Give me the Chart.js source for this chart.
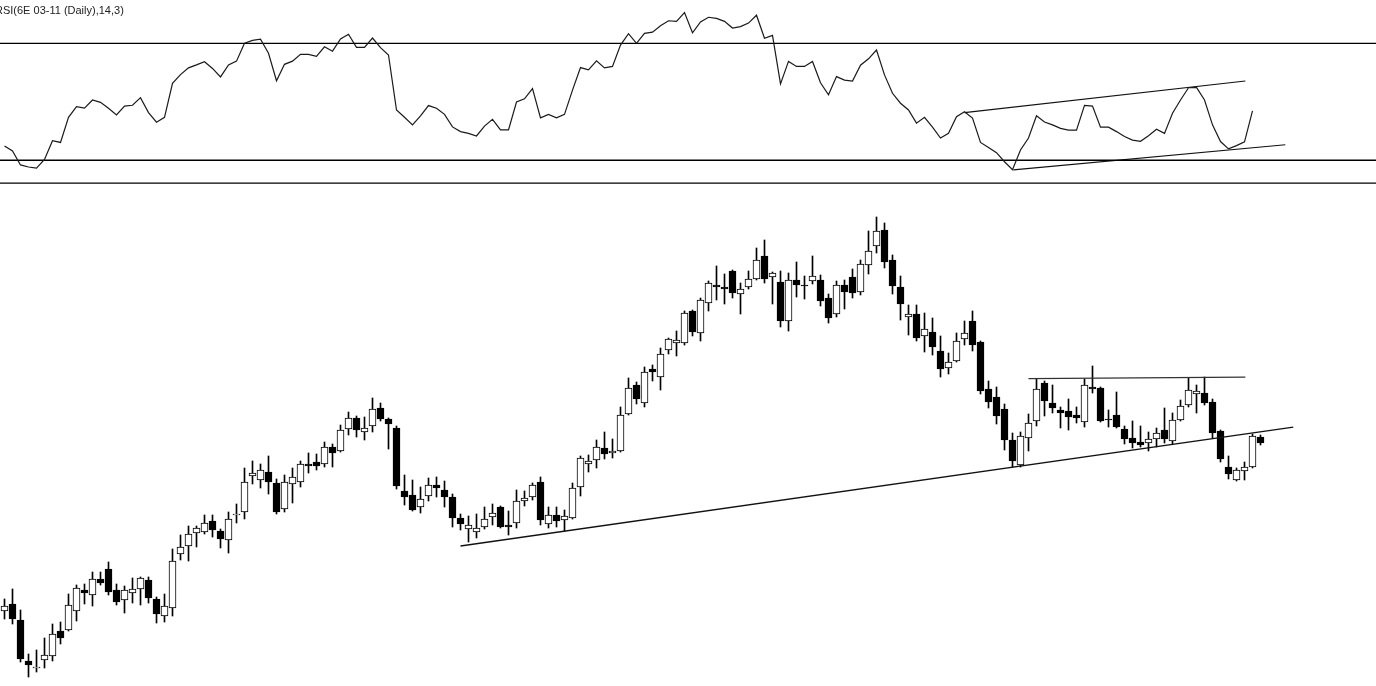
<!DOCTYPE html>
<html>
<head>
<meta charset="utf-8">
<script src="https://cdn.jsdelivr.net/npm/chart.js@4.4.0/dist/chart.umd.min.js"></script>
<style>
html, body { margin: 0; padding: 0; background: #fff; overflow: hidden; }
#rsiBox { position: absolute; left: 0; top: 0; width: 1376px; height: 186px; }
#priceBox { position: absolute; left: 0; top: 186px; width: 1376px; height: 500px; }
#rsiLabel { position: absolute; left: -5px; top: 4px; font: 11px Arial, "Liberation Sans", sans-serif; color: #222; line-height: 13px; white-space: nowrap; }
</style>
</head>
<body>
<div id="rsiBox"><canvas id="rsi"></canvas></div>
<div id="priceBox"><canvas id="price"></canvas></div>
<div id="rsiLabel">RSI(6E 03-11 (Daily),14,3)</div>
<script>
// daily 6E bars
const opens = [
  1.2220,1.2255,1.2175,1.1970,1.1935,1.1975,1.1995,1.2120,1.2125,1.2220,
  1.2325,1.2300,1.2380,1.2430,1.2325,1.2275,1.2310,1.2330,1.2375,1.2280,
  1.2195,1.2235,1.2505,1.2545,1.2610,1.2615,1.2670,1.2620,1.2575,1.2700,
  1.2715,1.2895,1.2875,1.2915,1.2860,1.2730,1.2855,1.2865,1.2955,1.2965,
  1.2955,1.3040,1.3020,1.3130,1.3185,1.3115,1.3145,1.3235,1.3180,1.3135,
  1.2820,1.2800,1.2740,1.2795,1.2850,1.2825,1.2790,1.2685,1.2630,1.2615,
  1.2640,1.2690,1.2740,1.2650,1.2660,1.2770,1.2790,1.2865,1.2655,1.2700,
  1.2675,1.2685,1.2840,1.2955,1.2975,1.3035,1.3010,1.3020,1.3205,1.3350,
  1.3260,1.3430,1.3390,1.3525,1.3560,1.3560,1.3720,1.3610,1.3760,1.3850,
  1.3840,1.3920,1.3805,1.3840,1.3880,1.3995,1.3890,1.3865,1.3670,1.3875,
  1.3850,1.3870,1.3875,1.3785,1.3705,1.3850,1.3890,1.3815,1.3950,1.4045,
  1.4125,1.3975,1.3840,1.3690,1.3705,1.3595,1.3615,1.3520,1.3435,1.3470,
  1.3580,1.3670,1.3565,1.3330,1.3290,1.3230,1.3075,1.2950,1.3085,1.3170,
  1.3360,1.3260,1.3225,1.3220,1.3200,1.3165,1.3340,1.3335,1.3180,1.3200,
  1.3130,1.3085,1.3065,1.3060,1.3080,1.3125,1.3070,1.3175,1.3250,1.3305,
  1.3310,1.3265,1.3120,1.2940,1.2875,1.2920,1.2940,1.3090
];
const highs = [
  1.2280,1.2330,1.2225,1.2005,1.2025,1.2085,1.2155,1.2165,1.2305,1.2350,
  1.2355,1.2415,1.2415,1.2465,1.2355,1.2345,1.2385,1.2390,1.2390,1.2290,
  1.2305,1.2530,1.2600,1.2645,1.2645,1.2700,1.2700,1.2630,1.2715,1.2755,
  1.2935,1.2970,1.2955,1.2995,1.2880,1.2900,1.2935,1.2970,1.3010,1.3005,
  1.3065,1.3055,1.3150,1.3215,1.3195,1.3190,1.3285,1.3260,1.3185,1.3145,
  1.2900,1.2875,1.2840,1.2885,1.2890,1.2870,1.2805,1.2705,1.2695,1.2705,
  1.2740,1.2755,1.2745,1.2720,1.2825,1.2820,1.2860,1.2890,1.2740,1.2740,
  1.2725,1.2860,1.2995,1.3000,1.3075,1.3115,1.3080,1.3240,1.3385,1.3365,
  1.3440,1.3450,1.3535,1.3585,1.3620,1.3720,1.3725,1.3785,1.3870,1.3945,
  1.3905,1.3925,1.3860,1.3920,1.4035,1.4075,1.3915,1.3920,1.3910,1.3965,
  1.3895,1.3995,1.3900,1.3805,1.3870,1.3875,1.3930,1.3975,1.4120,1.4190,
  1.4160,1.4000,1.3895,1.3750,1.3750,1.3710,1.3685,1.3595,1.3510,1.3610,
  1.3670,1.3720,1.3570,1.3370,1.3340,1.3255,1.3110,1.3115,1.3205,1.3380,
  1.3370,1.3350,1.3240,1.3280,1.3240,1.3380,1.3445,1.3340,1.3225,1.3315,
  1.3145,1.3170,1.3145,1.3115,1.3135,1.3235,1.3210,1.3275,1.3385,1.3350,
  1.3390,1.3280,1.3125,1.2995,1.2935,1.2965,1.3105,1.3100
];
const lows = [
  1.2180,1.2155,1.1965,1.1890,1.1915,1.1935,1.1970,1.2055,1.2120,1.2170,
  1.2255,1.2245,1.2350,1.2300,1.2250,1.2210,1.2260,1.2250,1.2260,1.2160,
  1.2165,1.2195,1.2475,1.2470,1.2540,1.2605,1.2590,1.2535,1.2510,1.2660,
  1.2680,1.2855,1.2835,1.2805,1.2705,1.2715,1.2760,1.2840,1.2910,1.2925,
  1.2940,1.2940,1.3015,1.3100,1.3090,1.3075,1.3115,1.3170,1.3030,1.2830,
  1.2750,1.2720,1.2710,1.2770,1.2790,1.2740,1.2640,1.2625,1.2565,1.2585,
  1.2630,1.2650,1.2635,1.2600,1.2635,1.2745,1.2775,1.2650,1.2635,1.2640,
  1.2620,1.2680,1.2795,1.2915,1.2935,1.2980,1.2985,1.3015,1.3200,1.3255,
  1.3240,1.3370,1.3325,1.3505,1.3495,1.3550,1.3595,1.3570,1.3720,1.3775,
  1.3755,1.3785,1.3705,1.3830,1.3875,1.3860,1.3755,1.3640,1.3620,1.3790,
  1.3780,1.3855,1.3745,1.3660,1.3690,1.3730,1.3785,1.3800,1.3905,1.4010,
  1.3935,1.3805,1.3675,1.3600,1.3570,1.3515,1.3500,1.3390,1.3405,1.3465,
  1.3550,1.3520,1.3305,1.3235,1.3155,1.3025,1.2940,1.2940,1.3020,1.3145,
  1.3195,1.3210,1.3135,1.3125,1.3160,1.3140,1.3310,1.3165,1.3140,1.3135,
  1.3055,1.3035,1.3040,1.3020,1.3040,1.3060,1.3055,1.3170,1.3240,1.3210,
  1.3250,1.3085,1.2965,1.2880,1.2870,1.2875,1.2935,1.3050
];
const closes = [
  1.2245,1.2180,1.1980,1.1950,1.1940,1.2000,1.2105,1.2085,1.2250,1.2335,
  1.2310,1.2380,1.2360,1.2315,1.2265,1.2325,1.2330,1.2385,1.2285,1.2205,
  1.2245,1.2470,1.2540,1.2605,1.2635,1.2660,1.2625,1.2580,1.2680,1.2705,
  1.2865,1.2910,1.2925,1.2865,1.2715,1.2865,1.2890,1.2955,1.2945,1.2945,
  1.3040,1.3010,1.3125,1.3185,1.3125,1.3135,1.3230,1.3180,1.3155,1.2845,
  1.2790,1.2725,1.2780,1.2850,1.2835,1.2790,1.2685,1.2655,1.2650,1.2635,
  1.2680,1.2710,1.2640,1.2640,1.2770,1.2785,1.2850,1.2675,1.2700,1.2670,
  1.2695,1.2835,1.2985,1.2970,1.3040,1.3005,1.3020,1.3200,1.3335,1.3280,
  1.3415,1.3415,1.3505,1.3580,1.3575,1.3710,1.3615,1.3775,1.3860,1.3840,
  1.3830,1.3810,1.3830,1.3880,1.3975,1.3880,1.3910,1.3670,1.3875,1.3850,
  1.3845,1.3895,1.3770,1.3685,1.3850,1.3815,1.3810,1.3955,1.4020,1.4120,
  1.3965,1.3845,1.3755,1.3705,1.3585,1.3630,1.3540,1.3430,1.3465,1.3570,
  1.3610,1.3550,1.3320,1.3265,1.3195,1.3075,1.2970,1.3095,1.3160,1.3330,
  1.3270,1.3235,1.3210,1.3190,1.3185,1.3350,1.3330,1.3170,1.3175,1.3140,
  1.3080,1.3060,1.3050,1.3080,1.3110,1.3080,1.3175,1.3245,1.3325,1.3320,
  1.3260,1.3110,1.2980,1.2905,1.2925,1.2940,1.3095,1.3060
];

// RSI(14), last bar not yet computed
const rsiValues = [
  34.9,33.2,28.4,27.7,27.3,30.3,36.7,36.1,44.7,48.3,
  47.8,50.6,49.8,47.8,45.5,48.5,48.8,51.4,46.3,43.0,
  44.7,56.3,59.3,61.6,62.6,63.7,61.4,58.5,62.6,63.9,
  70.0,71.0,71.4,66.6,57.2,62.8,63.9,66.2,66.2,65.5,
  68.8,67.3,71.5,73.1,68.6,68.6,71.8,68.5,66.0,47.2,
  44.7,42.1,45.2,48.7,47.8,45.7,41.4,39.8,39.2,38.3,
  41.7,44.0,40.4,40.4,49.9,51.0,54.5,44.5,45.7,44.5,
  45.7,54.0,61.7,60.9,64.0,61.6,62.1,69.4,73.3,70.0,
  73.4,73.8,76.0,77.7,77.5,80.5,73.6,77.3,78.9,78.5,
  77.5,75.2,75.7,76.9,79.6,71.7,72.7,56.1,63.8,62.1,
  62.1,63.8,56.5,52.4,58.6,57.4,57.1,62.5,64.7,67.7,
  59.2,52.9,49.5,47.2,42.7,44.7,41.3,37.6,39.2,44.9,
  46.6,44.4,36.1,34.4,32.6,29.5,26.8,33.5,37.6,45.2,
  43.1,42.1,40.9,40.3,40.3,48.8,48.5,41.3,41.3,39.8,
  38.1,36.9,36.5,38.4,40.6,39.2,46.1,50.6,54.8,54.9,
  50.6,42.1,36.4,33.9,35.0,36.3,46.9,null
];
const rsiLevels = [70, 30];
const rsiFloor = 22.2;

// drawn trend lines (bar index, value)
const supportLine = [{ x: 57.0, y: 1.2545 }, { x: 161.1, y: 1.3139 }];
const resistanceLine = [{ x: 128.0, y: 1.3382 }, { x: 155.1, y: 1.3389 }];
const rsiUpper = [{ x: 120.0, y: 46.3 }, { x: 155.1, y: 57.1 }];
const rsiLower = [{ x: 126.1, y: 26.7 }, { x: 160.1, y: 35.3 }];

// 172 bar slots of 8px across the window, bar centres on half pixels
const xMin = -0.5625, xMax = 171.4375;

const bodies = opens.map((o, i) => ({ x: i, y: [o, closes[i]] }));
const wicks = highs.map((h, i) => ({ x: i, y: [lows[i], h] }));
const bodyFill = opens.map((o, i) => closes[i] >= o ? '#ffffff' : '#000000');

function flatLine(v) {
  return [{ x: xMin, y: v }, { x: xMax, y: v }];
}
function lineSet(data, width, color) {
  return { type: 'line', data: data, borderColor: color || '#000', borderWidth: width,
           pointRadius: 0, tension: 0, fill: false, order: 1 };
}

const baseOptions = {
  responsive: true,
  maintainAspectRatio: false,
  animation: false,
  layout: { padding: 0 },
  plugins: { legend: { display: false }, tooltip: { enabled: false } },
  events: []
};

new Chart('price', {
  type: 'bar',
  data: {
    datasets: [
      { data: wicks, backgroundColor: '#000', barThickness: 1, grouped: false, order: 3 },
      { data: bodies, backgroundColor: bodyFill, borderColor: '#000', borderWidth: 1,
        borderSkipped: false, barThickness: 7, grouped: false, order: 2 },
      lineSet(supportLine, 1.3, '#111'),
      lineSet(resistanceLine, 1.3, '#333')
    ]
  },
  options: Object.assign({}, baseOptions, {
    scales: {
      x: { type: 'linear', min: xMin, max: xMax, offset: false, display: false, grid: { offset: false } },
      y: { min: 1.1845, max: 1.4345, beginAtZero: false, display: false }
    }
  })
});

new Chart('rsi', {
  type: 'line',
  data: {
    datasets: [
      lineSet(rsiValues.map((v, i) => ({ x: i, y: v })), 1.2, '#1a1a1a'),
      lineSet(flatLine(rsiLevels[0]), 1.3),
      lineSet(flatLine(rsiLevels[1]), 1.3),
      lineSet(flatLine(rsiFloor), 1.3),
      lineSet(rsiUpper, 1.2, '#111'),
      lineSet(rsiLower, 1.2, '#111')
    ]
  },
  options: Object.assign({}, baseOptions, {
    scales: {
      x: { type: 'linear', min: xMin, max: xMax, display: false },
      y: { min: 21.2, max: 84.8, display: false }
    }
  })
});
</script>
</body>
</html>
